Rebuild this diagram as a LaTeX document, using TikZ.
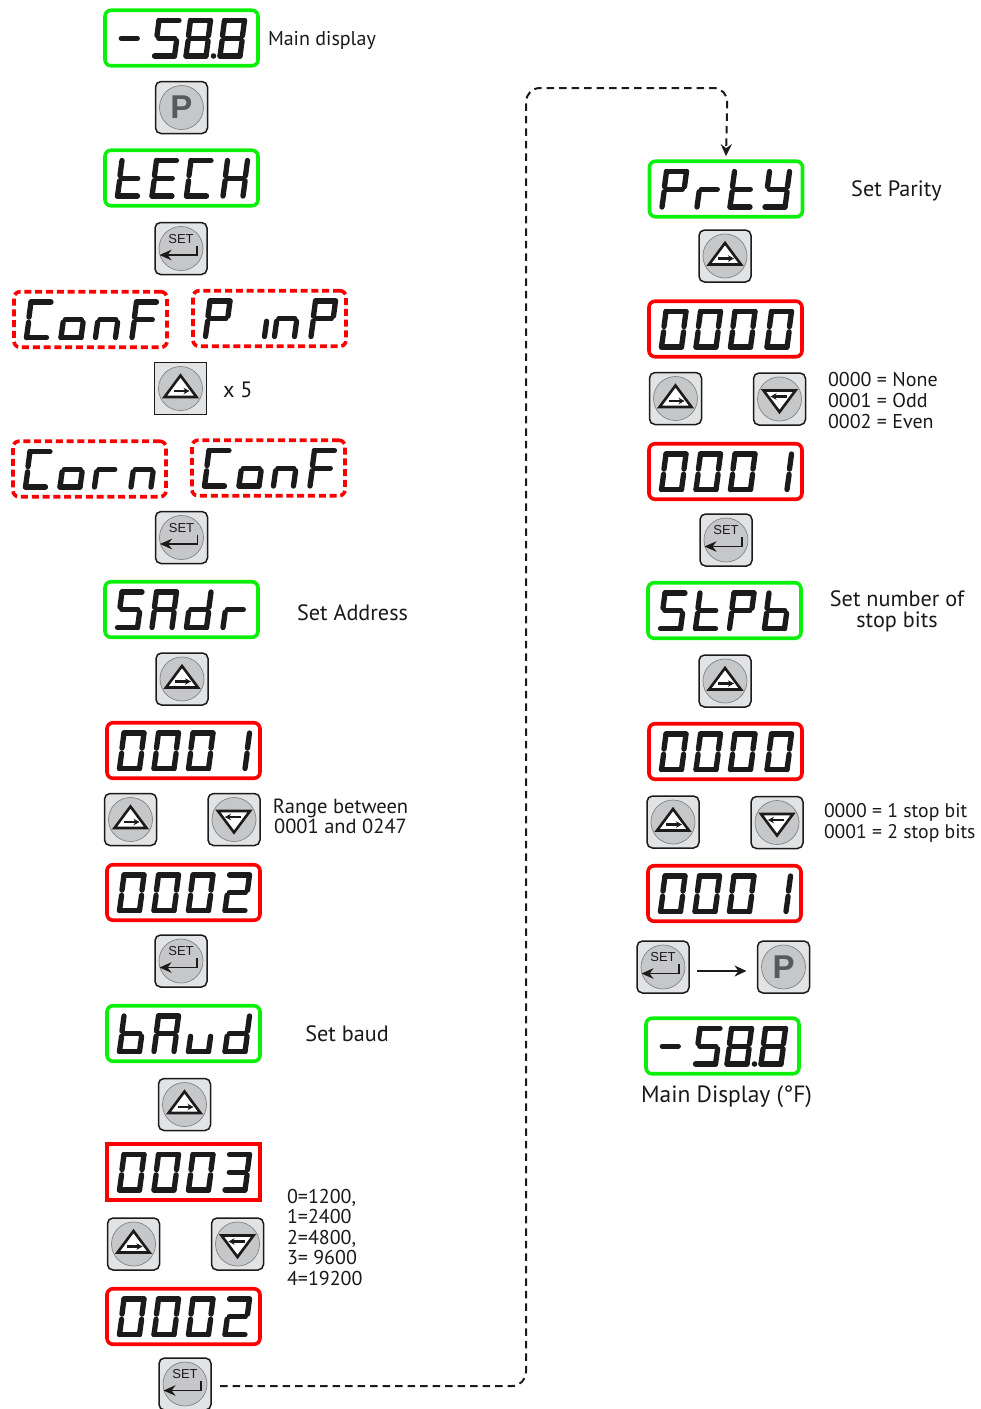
\documentclass[tikz,border=0pt]{standalone}
\usepackage{fontspec}
\setmainfont{PT Sans}
\newfontfamily\btnfont{Liberation Sans}
\usetikzlibrary{arrows.meta,calc}
\definecolor{dgreen}{RGB}{10,240,10}
\definecolor{dred}{RGB}{250,0,0}
\definecolor{btnface}{RGB}{226,227,228}
\definecolor{btncirc}{RGB}{198,199,201}
\definecolor{btnring}{RGB}{130,131,133}
\definecolor{btnink}{RGB}{28,26,27}
\definecolor{pgray}{RGB}{88,89,91}
\tikzset{
  panel/.style={minimum width=153pt,minimum height=55.5pt,inner sep=0pt,outer sep=0pt,line width=3.6pt,rounded corners=6pt,text opacity=0,font=\fontsize{12}{12}\selectfont},
  greenpanel/.style={panel,draw=dgreen},
  redpanel/.style={panel,draw=dred},
  redsquare/.style={panel,draw=dred,rounded corners=0pt},
  redpanelD/.style={panel,draw=dred,dash pattern=on 7pt off 3.8pt},
  segline/.style={draw=btnink,line width=5.3pt,line cap=round,line join=round},
  btnbox/.style={draw=btnink,fill=btnface,minimum width=52pt,minimum height=52pt,inner sep=0pt,outer sep=0pt,line width=1.5pt,rounded corners=5.5pt},
  btnsquare/.style={btnbox,rounded corners=0pt},
  btndisc/.style={circle,draw=btnring,fill=btncirc,minimum size=44pt,inner sep=0pt,line width=.7pt},
  icontri/.style={draw=btnink,fill=white,line width=2.6pt,line join=miter},
  iconarrow/.style={draw=btnink,line width=2.1pt,-{Stealth[length=6pt,width=6.5pt]}},
  setarrow/.style={draw=btnink,line width=1.9pt,-{Stealth[length=12pt,width=10.5pt]}},
  flow/.style={draw=btnink,line width=2pt,dash pattern=on 7.5pt off 5pt,rounded corners=14pt,-{Stealth[length=12pt,width=11pt]}},
  solidflow/.style={draw=btnink,line width=2pt,-{Stealth[length=12pt,width=11pt]}},
  lbl/.style={inner sep=0pt,outer sep=0pt,yshift=-1.5pt,font=\fontsize{20}{20.6}\selectfont,text=black!90},
  lblbig/.style={lbl,font=\fontsize{22.2}{20.6}\selectfont},
  lblc/.style={lbl,align=center},
  lblcbig/.style={lblbig,align=center},
  lbll/.style={lbl,align=left,anchor=west},
}
\def\defseg#1#2{\expandafter\def\csname segs#1\endcsname{#2}}
\defseg{0}{a,b,c,d,e,f}\defseg{1}{b,c}\defseg{2}{a,b,g,e,d}\defseg{3}{a,b,g,c,d}
\defseg{5}{a,f,g,c,d}\defseg{8}{a,b,c,d,e,f,g}\defseg{-}{g}
\defseg{t}{f,e,g,d}\defseg{E}{a,f,g,e,d}\defseg{C}{a,f,e,d}\defseg{H}{f,e,b,c,g}
\defseg{o}{g,c,d,e}\defseg{n}{g,c,e}\defseg{F}{a,f,g,e}\defseg{P}{a,b,f,g,e}
\defseg{i}{e}\defseg{r}{e,g}\defseg{S}{a,f,g,c,d}\defseg{A}{a,b,c,e,f,g}
\defseg{d}{b,c,d,e,g}\defseg{b}{f,e,d,c,g}\defseg{u}{c,d,e}\defseg{y}{f,b,g,c,d}
\def\spa{\draw[segline] (7,2.5) -- (27,2.5);}
\def\spd{\draw[segline] (2.5,38) -- (22.5,38);}
\def\spg{\draw[segline] (6.8,20.2) -- (22.8,20.2);}
\def\spf{\draw[segline] (7,2.5) -- (5,17.6);}
\def\spb{\draw[segline] (27,2.5) -- (25,17.6);}
\def\spe{\draw[segline] (4.6,22.8) -- (2.5,38);}
\def\spc{\draw[segline] (24.6,22.8) -- (22.5,38);}
\newcommand\segglyph[3]{%
  \expandafter\let\expandafter\seglist\csname segs#3\endcsname
  \begin{scope}[shift={(#1,#2)}]
    \foreach \s in \seglist {\csname sp\s\endcsname}
  \end{scope}}
% name, x0, y0, style, text, glyph list
\newcommand\fourchars[4]{10/#1,44.5/#2,79/#3,115.5/#4}
\newcommand\disp[6]{%
  \node[#4] (#1) at ({#2+76.5},{#3+28.5}) {#5};
  \edef\displist{#6}%
  \foreach \gx/\gc in \displist {\segglyph{#2+\gx}{#3+8.5}{\gc}}}
\newcommand\btn[4]{% name,x0,y0,style
  \node[#4] (#1) at ({#2+26},{#3+26}) {};
  \node[btndisc] (#1d) at (#1) {};}
\newcommand\btnP[3]{\btn{#1}{#2}{#3}{btnbox}
  \node[font=\btnfont\bfseries\fontsize{33}{33}\selectfont,text=pgray,inner sep=0pt] (#1t) at (#1) {P};}
\newcommand\btnSet[3]{\btn{#1}{#2}{#3}{btnbox}
  \node[font=\btnfont\fontsize{13}{13}\selectfont,text=btnink,inner sep=0pt] (#1t) at ($(#1)+(0,-9.5)$) {SET};
  \begin{scope}[shift={(#1)}]
    \draw[setarrow] (16,-3) -- (16,6.5) -- (-21.5,6.5);
  \end{scope}}
\newcommand\btnUp[4][btnbox]{\btn{#2}{#3}{#4}{#1}
  \begin{scope}[shift={(#2)}]
    \draw[icontri] (0,-13) -- (16,8.5) -- (-16,8.5) -- cycle;
    \draw[iconarrow] (-7,2.5) -- (9,2.5);
  \end{scope}}
\newcommand\btnDown[3]{\btn{#1}{#2}{#3}{btnbox}
  \begin{scope}[shift={(#1)}]
    \draw[icontri] (0,13) -- (16,-8.5) -- (-16,-8.5) -- cycle;
    \draw[iconarrow] (7,-2.5) -- (-9,-2.5);
  \end{scope}}
\begin{document}
\begin{tikzpicture}[x=1pt,y=-1pt]
\useasboundingbox (0,0) rectangle (981,1409);
% left column
\disp{d1}{105}{9.5}{greenpanel}{-58.8}{9.5/-,47/5,78.5/8,112.5/8}
\fill[btnink] (213.5,56) circle (2.8);
\node[lbll] (t1) at (268,38.5) {Main display};
\btnP{b1}{155.5}{81.5}
\disp{d2}{105}{149.5}{greenpanel}{tECH}{\fourchars{t}{E}{C}{H}}
\btnSet{b2}{155}{222.5}
\disp{d3}{14}{291}{redpanelD}{ConF}{\fourchars{C}{o}{n}{F}}
\disp{d4}{193}{290}{redpanelD}{P inP}{10/P,69/i,79/n,115.5/P}
\btnUp[btnsquare]{b3}{154.5}{362.5}
\node[lbll,font=\fontsize{22.2}{22}\selectfont] (t2) at (223,388.5) {x 5};
\disp{d5}{13}{440.5}{redpanelD}{Corn}{\fourchars{C}{o}{r}{n}}
\disp{d6}{192}{439.5}{redpanelD}{ConF}{\fourchars{C}{o}{n}{F}}
\btnSet{b4}{155.5}{511.5}
\disp{d7}{105}{581}{greenpanel}{SAdr}{\fourchars{S}{A}{d}{r}}
\node[lblcbig] (t3) at (352.5,611.2) {Set Address};
\btnUp{b5}{156}{653}
\disp{d8}{107}{722}{redpanel}{0001}{\fourchars{0}{0}{0}{1}}
\btnUp{b6}{104.5}{793.5}
\btnDown{b7}{208}{793.5}
\node[lblc,font=\fontsize{20.5}{20.6}\selectfont] (t4) at (340.5,815) {Range between\\0001 and 0247};
\disp{d9}{107}{864}{redpanel}{0002}{\fourchars{0}{0}{0}{2}}
\btnSet{b8}{155}{935}
\disp{d10}{107}{1005}{greenpanel}{bAud}{\fourchars{b}{A}{u}{d}}
\node[lblcbig] (t5) at (347,1032.2) {Set baud};
\btnUp{b9}{158.5}{1078.5}
\disp{d11}{107}{1143.5}{redsquare}{0003}{\fourchars{0}{0}{0}{3}}
\btnUp{b10}{107.5}{1218}
\btnDown{b11}{211.5}{1218}
\node[lbll] (t6) at (287,1235.7) {0=1200,\\1=2400\\2=4800,\\3= 9600\\4=19200};
\disp{d12}{107}{1288}{redpanel}{0002}{\fourchars{0}{0}{0}{2}}
\btnSet{b12}{159}{1358}
% right column
\disp{d13}{649.5}{160.5}{greenpanel}{Prty}{10/P,45/r,78/t,113/y}
\node[lblcbig] (t7) at (896.5,189) {Set Parity};
\btnUp{b13}{699}{230}
\disp{d14}{649}{300.5}{redpanel}{0000}{\fourchars{0}{0}{0}{0}}
\btnUp{b14}{649.5}{372.5}
\btnDown{b15}{753.5}{373}
\node[lbll] (t8) at (828,399) {0000 = None\\0001 = Odd\\0002 = Even};
\disp{d15}{649}{443}{redpanel}{0001}{\fourchars{0}{0}{0}{1}}
\btnSet{b16}{700}{514}
\disp{d16}{648}{582}{greenpanel}{StPb}{10/S,45/t,79/P,114/b}
\node[lblcbig] (t9) at (897,610) {Set number of\\stop bits};
\btnUp{b17}{699}{655}
\disp{d17}{649}{723}{redpanel}{0000}{\fourchars{0}{0}{0}{0}}
\btnUp{b18}{647}{796}
\btnDown{b19}{751}{796.5}
\node[lbll,font=\fontsize{19.7}{20.6}\selectfont] (t10) at (824,821.5) {0000 = 1 stop bit\\0001 = 2 stop bits};
\disp{d18}{648}{865}{redpanel}{0001}{\fourchars{0}{0}{0}{1}}
\btnSet{b20}{637}{941}
\btnP{b21}{757.5}{941}
\disp{d19}{646}{1017.5}{greenpanel}{-58.8}{9.5/-,47/5,78.5/8,112.5/8}
\fill[btnink] (754.5,1064) circle (2.8);
\node[lblc,font=\fontsize{23.5}{24}\selectfont] (t11) at (726.5,1095.5) {Main Display (°F)};
% connectors
\coordinate (c1) at (526,1386);
\coordinate (c2) at (526,88);
\coordinate (c3) at (727.5,88);
\draw[flow] ([shift={(9pt,-2pt)}]b12.east) -- (c1) -- (c2) -- (c3) -- ([yshift=5pt]d13.north);
\draw[solidflow] ([shift={(8pt,-4pt)}]b20.east) -- ([shift={(-11pt,-4pt)}]b21.west);
\end{tikzpicture}
\end{document}
